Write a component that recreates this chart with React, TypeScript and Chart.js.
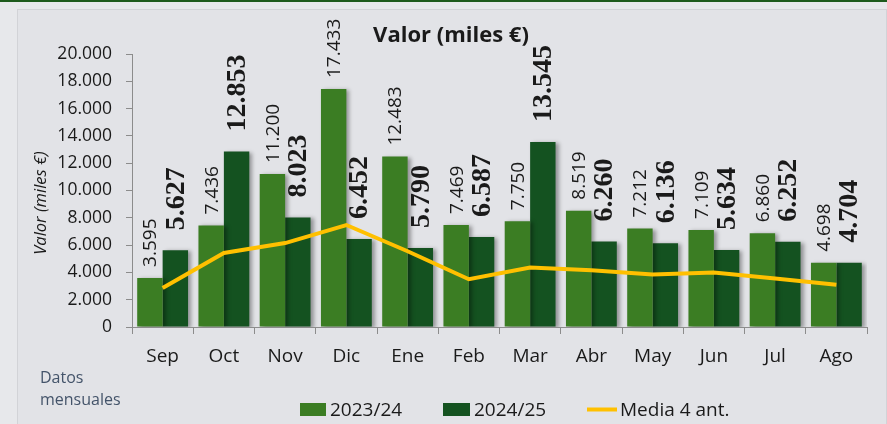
import React, { useEffect, useRef } from "react";
import { Chart, registerables } from "chart.js";

Chart.register(...registerables);

const months = ["Sep", "Oct", "Nov", "Dic", "Ene", "Feb", "Mar", "Abr", "May", "Jun", "Jul", "Ago"];
const valores2324 = [3595, 7436, 11200, 17433, 12483, 7469, 7750, 8519, 7212, 7109, 6860, 4698];
const valores2425 = [5627, 12853, 8023, 6452, 5790, 6587, 13545, 6260, 6136, 5634, 6252, 4704];
const media4ant = [2850, 5420, 6150, 7470, 5550, 3500, 4350, 4150, 3850, 4000, 3550, 3100];
const seriesNames = ["2023/24", "2024/25", "Media 4 ant."];
const titleText = "Valor (miles €)";
const yAxisTitle = "Valor (miles €)";
const noteLines = ["Datos", "mensuales"];

const C_LIGHT = "#3b7d23";
const C_DARK = "#145220";
const C_LINE = "#ffc000";
const C_TEXT = "#1a1a1a";
const C_AXIS = "#8c8c8c";

const fmt = (n: number) => String(Math.round(n)).replace(/\B(?=(\d{3})+(?!\d))/g, ".");

const shadowPlugin = {
  id: "barShadow",
  beforeDatasetDraw(chart: any, args: any) {
    if (args.meta.type !== "bar") return;
    const ctx = chart.ctx;
    ctx.save();
    ctx.shadowColor = "rgba(0,0,0,0.35)";
    ctx.shadowBlur = 4;
    ctx.shadowOffsetX = 3;
    ctx.shadowOffsetY = 1;
  },
  afterDatasetDraw(chart: any, args: any) {
    if (args.meta.type !== "bar") return;
    chart.ctx.restore();
  },
};

const barLabelPlugin = {
  id: "barLabels",
  afterDatasetsDraw(chart: any) {
    const ctx = chart.ctx;
    [0, 1].forEach((di) => {
      const meta = chart.getDatasetMeta(di);
      const ds = chart.data.datasets[di];
      meta.data.forEach((bar: any, i: number) => {
        const v = ds.data[i] as number;
        ctx.save();
        ctx.translate(bar.x + 1, bar.y - (di === 0 ? 11 : 20));
        ctx.rotate(-Math.PI / 2);
        ctx.font = di === 0 ? '19px "Open Sans"' : 'bold 28px "Liberation Serif"';
        ctx.fillStyle = C_TEXT;
        ctx.textAlign = "left";
        ctx.textBaseline = "middle";
        ctx.fillText(fmt(v), 0, 0);
        ctx.restore();
      });
    });
  },
};

const decorPlugin = {
  id: "decor",
  afterDraw(chart: any) {
    const ctx = chart.ctx;
    ctx.save();
    // title
    ctx.font = 'bold 22px "Open Sans"';
    ctx.fillStyle = C_TEXT;
    ctx.textAlign = "center";
    ctx.textBaseline = "alphabetic";
    ctx.fillText(titleText, 451, 42);
    // y axis title
    ctx.save();
    ctx.translate(46, 203);
    ctx.rotate(-Math.PI / 2);
    ctx.font = 'italic 16.5px "Open Sans"';
    ctx.textAlign = "center";
    ctx.fillText(yAxisTitle, 0, 0);
    ctx.restore();
    // note
    ctx.font = '16px "Open Sans"';
    ctx.fillStyle = "#44546a";
    ctx.textAlign = "left";
    ctx.fillText(noteLines[0], 40, 383);
    ctx.fillText(noteLines[1], 40, 405);
    // legend
    const ds = chart.data.datasets;
    ctx.font = '19px "Open Sans"';
    ctx.fillStyle = ds[0].backgroundColor;
    ctx.fillRect(300, 403, 26, 13);
    ctx.fillStyle = ds[1].backgroundColor;
    ctx.fillRect(443, 403, 27, 13);
    ctx.strokeStyle = ds[2].borderColor;
    ctx.lineWidth = 4;
    ctx.beginPath();
    ctx.moveTo(587, 409.5);
    ctx.lineTo(617, 409.5);
    ctx.stroke();
    ctx.fillStyle = C_TEXT;
    ctx.fillText(seriesNames[0], 330, 416);
    ctx.fillText(seriesNames[1], 474, 416);
    ctx.fillText(seriesNames[2], 620, 416);
    ctx.restore();
  },
};

export default function App() {
  const ref = useRef<HTMLCanvasElement | null>(null);

  useEffect(() => {
    if (!ref.current) return;
    const chart = new Chart(ref.current, {
      type: "bar",
      data: {
        labels: months,
        datasets: [
          {
            type: "bar",
            label: seriesNames[0],
            data: valores2324,
            backgroundColor: C_LIGHT,
            borderWidth: 0,
            barPercentage: 1,
            categoryPercentage: 0.83,
            order: 1,
          },
          {
            type: "bar",
            label: seriesNames[1],
            data: valores2425,
            backgroundColor: C_DARK,
            borderWidth: 0,
            barPercentage: 1,
            categoryPercentage: 0.83,
            order: 1,
          },
          {
            type: "line",
            label: seriesNames[2],
            data: media4ant,
            borderColor: C_LINE,
            backgroundColor: C_LINE,
            borderWidth: 4,
            pointRadius: 0,
            tension: 0,
            order: 0,
          },
        ] as any,
      },
      options: {
        responsive: false,
        animation: false,
        layout: { padding: { left: 0, top: 54, right: 20, bottom: 0 } },
        plugins: {
          legend: { display: false },
          tooltip: { enabled: false },
          title: { display: false },
        },
        scales: {
          x: {
            grid: {
              offset: true,
              drawOnChartArea: false,
              drawTicks: true,
              tickLength: 7,
              color: C_AXIS,
            },
            border: { color: C_AXIS, width: 1 },
            ticks: {
              font: { family: "Open Sans", size: 19 },
              color: C_TEXT,
              padding: 11,
              maxRotation: 0,
            },
            afterFit: (s: any) => {
              s.height = 97;
            },
          },
          y: {
            min: 0,
            max: 20000,
            grid: {
              drawOnChartArea: false,
              drawTicks: true,
              tickLength: 6,
              color: C_AXIS,
            },
            border: { color: C_AXIS, width: 1 },
            ticks: {
              stepSize: 2000,
              callback: (v: any) => fmt(Number(v)),
              font: { family: "Open Sans", size: 17.5 },
              color: C_TEXT,
              padding: 14,
            },
            afterFit: (s: any) => {
              s.width = 132;
            },
          },
        } as any,
      },
      plugins: [shadowPlugin, barLabelPlugin, decorPlugin],
    });
    return () => chart.destroy();
  }, []);

  return (
    <div
      style={{
        position: "fixed",
        left: 0,
        top: 0,
        width: 887,
        height: 424,
        background: "#e7e8eb",
        overflow: "hidden",
      }}
    >
      <div style={{ position: "absolute", left: 0, top: 0, width: 887, height: 2, background: "#1d5a1c" }} />
      <div
        style={{
          position: "absolute",
          left: 17,
          top: 9,
          width: 868,
          height: 430,
          background: "#e2e3e7",
          borderLeft: "1px solid #d2d3d7",
          borderTop: "1px solid #d2d3d7",
          borderRight: "1px solid #d2d3d7",
        }}
      />
      <canvas ref={ref} width={887} height={424} style={{ position: "absolute", left: 0, top: 0 }} />
    </div>
  );
}
